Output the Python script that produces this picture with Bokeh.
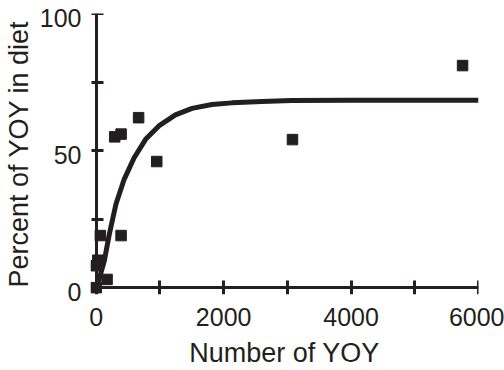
from bokeh.plotting import figure
from bokeh.models import FixedTicker, Range1d, LinearAxis
from bokeh.embed import file_html
from bokeh.resources import INLINE

# Observed data points (Number of YOY, Percent of YOY in diet)
yoy_number = [0, 0, 25, 65, 170, 290, 390, 390, 665, 950, 3080, 5750]
yoy_percent = [0, 8, 10, 19, 3, 55, 56, 19, 62, 46, 54, 81]

# Fitted curve
curve_x = [0, 50, 127, 205, 310, 440, 595, 775, 983, 1243, 1503, 1815, 2127, 2600, 3064, 4000, 5000, 6000]
curve_y = [0, 3.5, 9.8, 19.5, 30.5, 39.6, 47.4, 54.1, 59.0, 63.0, 65.4, 66.8, 67.4, 67.9, 68.3, 68.4, 68.4, 68.4]

x_major = [0, 2000, 4000, 6000]
x_minor = [1000, 3000, 5000]
y_major = [0, 50, 100]
y_minor = [25, 75]

INK = "#231f20"
FONT = "Liberation Sans"

p = figure(width=504, height=370, output_backend="svg", toolbar_location=None,
           x_range=Range1d(-90, 6000), y_range=Range1d(-2.5, 100),
           x_axis_location=None, y_axis_location=None,
           min_border_left=88, min_border_right=26, min_border_top=13, min_border_bottom=76)
p.extra_y_ranges = {"lab": Range1d(-2.5 + 1.6, 100 + 1.6)}
p.outline_line_color = None
p.xgrid.visible = False
p.ygrid.visible = False
p.background_fill_color = "white"
p.border_fill_color = "white"

p.line(curve_x, curve_y, line_color=INK, line_width=5)
p.scatter(yoy_number, yoy_percent, marker="square", size=10.5, fill_color=INK, line_color=INK)


def label_axis(ax):
    ax.axis_line_color = None
    ax.major_tick_in = 0
    ax.major_tick_out = 0
    ax.minor_tick_in = 0
    ax.minor_tick_out = 0
    ax.major_tick_line_color = None
    ax.minor_tick_line_color = None
    ax.major_label_text_font = FONT
    ax.major_label_text_font_size = "25px"
    ax.major_label_text_color = INK
    ax.axis_label_text_font = FONT
    ax.axis_label_text_font_size = "27px"
    ax.axis_label_text_font_style = "normal"
    ax.axis_label_text_color = INK


def line_axis(ax, tin, tout):
    ax.axis_line_width = 3
    ax.axis_line_color = INK
    ax.major_tick_line_width = 3
    ax.minor_tick_line_width = 3
    ax.major_tick_line_color = INK
    ax.minor_tick_line_color = INK
    ax.major_tick_in = tin
    ax.major_tick_out = tout
    ax.minor_tick_in = tin
    ax.minor_tick_out = tout
    ax.major_label_text_font_size = "1px"
    ax.major_label_text_alpha = 0
    ax.major_label_standoff = 0


# Tick labels and axis titles
ylab = LinearAxis(y_range_name="lab", ticker=FixedTicker(ticks=y_major),
                  axis_label="Percent of YOY in diet")
label_axis(ylab)
ylab.major_label_standoff = 9
ylab.axis_label_standoff = 3
p.add_layout(ylab, "left")

xlab = LinearAxis(ticker=FixedTicker(ticks=x_major), axis_label="Number of YOY")
label_axis(xlab)
xlab.major_label_standoff = 13
xlab.axis_label_standoff = 9
p.add_layout(xlab, "below")

# Axis lines with ticks, crossing at the origin
yline = LinearAxis(ticker=FixedTicker(ticks=y_major, minor_ticks=y_minor),
                   fixed_location=0, bounds=(0, 100))
line_axis(yline, 5, 7)
p.add_layout(yline, "right")

xline = LinearAxis(ticker=FixedTicker(ticks=x_major, minor_ticks=x_minor),
                   fixed_location=0, bounds=(0, 6000))
line_axis(xline, 7, 7)
p.add_layout(xline, "above")

open("out.html", "w").write(file_html(p, INLINE))
